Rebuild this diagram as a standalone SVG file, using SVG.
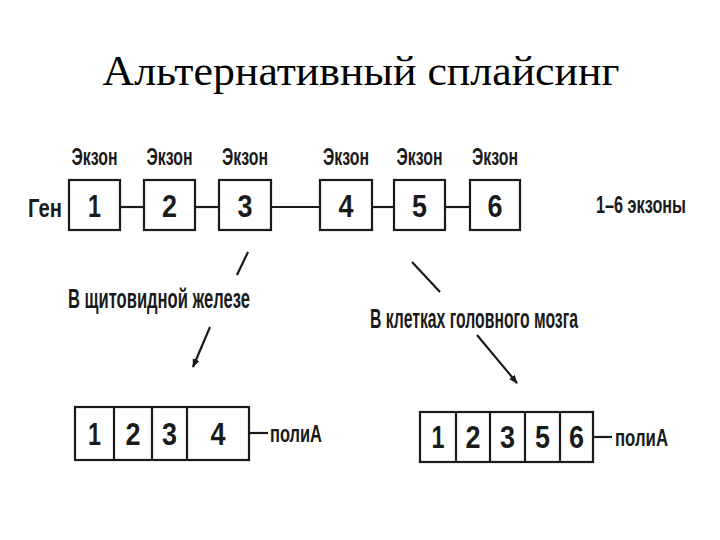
<svg xmlns="http://www.w3.org/2000/svg" width="720" height="540" viewBox="0 0 720 540">
<style>
.t{font-family:"Liberation Serif","Times New Roman",serif;fill:#000}
.s{font-family:"Liberation Sans",Arial,sans-serif;font-weight:bold;fill:#1a1a1a}
.d{font-family:"Liberation Sans",Arial,sans-serif;font-weight:bold;fill:#1a1a1a;font-size:31px;text-anchor:middle}
.box{fill:#fff;stroke:#1a1a1a;stroke-width:2.2}
.ln{stroke:#1a1a1a;stroke-width:2.2;fill:none}
</style>
<defs>
<marker id="ah" viewBox="0 0 10 10" refX="9" refY="5" markerWidth="4" markerHeight="4" orient="auto">
<path d="M0,1 L10,5 L0,9 z" fill="#1a1a1a"/>
</marker>
</defs>
<rect width="720" height="540" fill="#fff"/>
<text class="t" x="361" y="85" font-size="43" text-anchor="middle" textLength="517" lengthAdjust="spacingAndGlyphs">Альтернативный сплайсинг</text>

<g id="connectors">
<line class="ln" x1="120" y1="207" x2="144" y2="207"/>
<line class="ln" x1="195" y1="207" x2="219" y2="207"/>
<line class="ln" x1="271" y1="207" x2="320" y2="207"/>
<line class="ln" x1="372" y1="207" x2="394" y2="207"/>
<line class="ln" x1="445" y1="207" x2="470" y2="207"/>
<line class="ln" x1="248" y1="252" x2="237" y2="275"/>
<line class="ln" x1="210" y1="327" x2="193" y2="367" marker-end="url(#ah)"/>
<line class="ln" x1="412" y1="262" x2="440" y2="292"/>
<line class="ln" x1="477" y1="335" x2="517" y2="383" marker-end="url(#ah)"/>
<line class="ln" x1="250" y1="433" x2="268" y2="433"/>
<line class="ln" x1="594" y1="437" x2="612" y2="437"/>
</g>

<g id="gene-label"><text class="s" x="28" y="217" font-size="25" textLength="34" lengthAdjust="spacingAndGlyphs">Ген</text></g>

<g id="exon1"><text class="s" x="94.5" y="165" font-size="24" text-anchor="middle" textLength="46" lengthAdjust="spacingAndGlyphs">Экзон</text><rect class="box" x="69" y="180" width="51" height="50"/><text class="d" x="94.5" y="217" textLength="13" lengthAdjust="spacingAndGlyphs">1</text></g>
<g id="exon2"><text class="s" x="169.5" y="165" font-size="24" text-anchor="middle" textLength="46" lengthAdjust="spacingAndGlyphs">Экзон</text><rect class="box" x="144" y="180" width="51" height="50"/><text class="d" x="169.5" y="217" textLength="15" lengthAdjust="spacingAndGlyphs">2</text></g>
<g id="exon3"><text class="s" x="245" y="165" font-size="24" text-anchor="middle" textLength="46" lengthAdjust="spacingAndGlyphs">Экзон</text><rect class="box" x="219" y="180" width="52" height="50"/><text class="d" x="245" y="217" textLength="15" lengthAdjust="spacingAndGlyphs">3</text></g>
<g id="exon4"><text class="s" x="346" y="165" font-size="24" text-anchor="middle" textLength="46" lengthAdjust="spacingAndGlyphs">Экзон</text><rect class="box" x="320" y="180" width="52" height="50"/><text class="d" x="346" y="217" textLength="15" lengthAdjust="spacingAndGlyphs">4</text></g>
<g id="exon5"><text class="s" x="419.5" y="165" font-size="24" text-anchor="middle" textLength="46" lengthAdjust="spacingAndGlyphs">Экзон</text><rect class="box" x="394" y="180" width="51" height="50"/><text class="d" x="419.5" y="217" textLength="15" lengthAdjust="spacingAndGlyphs">5</text></g>
<g id="exon6"><text class="s" x="495" y="165" font-size="24" text-anchor="middle" textLength="46" lengthAdjust="spacingAndGlyphs">Экзон</text><rect class="box" x="470" y="180" width="50" height="50"/><text class="d" x="495" y="217" textLength="15" lengthAdjust="spacingAndGlyphs">6</text></g>

<g id="legend"><text class="s" x="596" y="213" font-size="24" textLength="90" lengthAdjust="spacingAndGlyphs">1–6 экзоны</text></g>

<g id="thyroid-label"><text class="s" x="68" y="308" font-size="27" textLength="182" lengthAdjust="spacingAndGlyphs">В щитовидной железе</text></g>
<g id="brain-label"><text class="s" x="370" y="328" font-size="27" textLength="208" lengthAdjust="spacingAndGlyphs">В клетках головного мозга</text></g>

<g id="mrna-thyroid">
<rect class="box" x="75" y="407" width="174" height="53"/>
<line class="ln" x1="114" y1="407" x2="114" y2="460"/>
<line class="ln" x1="152" y1="407" x2="152" y2="460"/>
<line class="ln" x1="187" y1="407" x2="187" y2="460"/>
<text class="d" x="94.5" y="445" textLength="13" lengthAdjust="spacingAndGlyphs">1</text>
<text class="d" x="133" y="445" textLength="15" lengthAdjust="spacingAndGlyphs">2</text>
<text class="d" x="169.5" y="445" textLength="15" lengthAdjust="spacingAndGlyphs">3</text>
<text class="d" x="218" y="445" textLength="15" lengthAdjust="spacingAndGlyphs">4</text>
<text class="s" x="270" y="442" font-size="24" textLength="52" lengthAdjust="spacingAndGlyphs">полиА</text>
</g>

<g id="mrna-brain">
<rect class="box" x="420" y="412" width="173" height="50"/>
<line class="ln" x1="456" y1="412" x2="456" y2="462"/>
<line class="ln" x1="490" y1="412" x2="490" y2="462"/>
<line class="ln" x1="525" y1="412" x2="525" y2="462"/>
<line class="ln" x1="560" y1="412" x2="560" y2="462"/>
<text class="d" x="438" y="448" textLength="13" lengthAdjust="spacingAndGlyphs">1</text>
<text class="d" x="473" y="448" textLength="15" lengthAdjust="spacingAndGlyphs">2</text>
<text class="d" x="507.5" y="448" textLength="15" lengthAdjust="spacingAndGlyphs">3</text>
<text class="d" x="542.5" y="448" textLength="15" lengthAdjust="spacingAndGlyphs">5</text>
<text class="d" x="576.5" y="448" textLength="15" lengthAdjust="spacingAndGlyphs">6</text>
<text class="s" x="615" y="446" font-size="24" textLength="53" lengthAdjust="spacingAndGlyphs">полиА</text>
</g>
</svg>
